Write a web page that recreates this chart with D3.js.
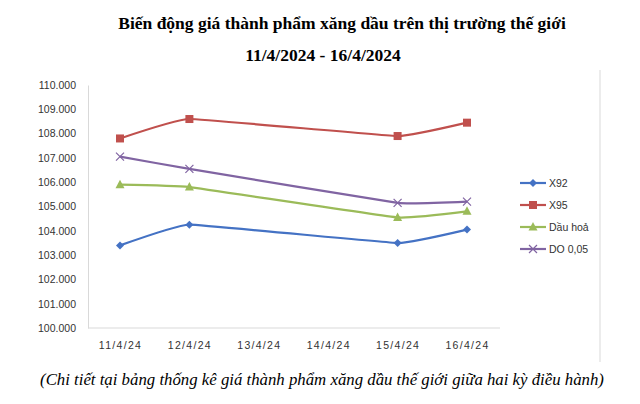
<!DOCTYPE html><html><head><meta charset="utf-8"><script src="https://cdn.jsdelivr.net/npm/d3@7"></script>
<style>body{margin:0;background:#fff}</style></head><body><svg id="c" width="640" height="404"></svg>
<script>
const categories=["11/4/24","12/4/24","13/4/24","14/4/24","15/4/24","16/4/24"];
const seriesNames=["X92","X95","Dầu hoả","DO 0,05"];
const x92=[103.4,104.25,null,null,103.5,104.05];
const x95=[107.8,108.6,null,null,107.9,108.45];
const dauhoa=[105.9,105.8,null,null,104.55,104.8];
const do005=[107.05,106.55,null,null,105.15,105.2];
const yTicks=[100,101,102,103,104,105,106,107,108,109,110];
const colors=["#4472C4","#C0504D","#9BBB59","#8064A2"];
const all=[x92,x95,dauhoa,do005];
const svg=d3.select("#c");
const font="'Liberation Serif','Times New Roman',serif";
svg.append("text").attr("x",342).attr("y",29).attr("text-anchor","middle").attr("font-family",font).attr("font-weight","bold").attr("font-size",17.5).text("Biến động giá thành phẩm xăng dầu trên thị trường thế giới");
svg.append("text").attr("x",323).attr("y",61).attr("text-anchor","middle").attr("font-family",font).attr("font-weight","bold").attr("font-size",17.5).text("11/4/2024 - 16/4/2024");
const x=d3.scalePoint().domain(categories).range([120,467]);
const y=d3.scaleLinear().domain([100,110]).range([328,85]);
const ax=svg.append("g").attr("transform","translate(88,0)").call(d3.axisLeft(y).tickValues(yTicks).tickSize(0).tickPadding(12).tickFormat(d=>d3.format(".3f")(d)));
ax.select(".domain").attr("stroke","#d9d9d9");
ax.selectAll("text").attr("font-family","'Liberation Sans',Arial,sans-serif").attr("font-size",10.5).attr("fill","#333");
const bx=svg.append("g").attr("transform","translate(0,328)").call(d3.axisBottom(x).tickSize(0).tickPadding(14));
bx.select(".domain").attr("stroke","#d9d9d9").attr("d","M88,0H500");
bx.selectAll("text").attr("font-family","'Liberation Sans',Arial,sans-serif").attr("font-size",10.5).attr("letter-spacing",1.3).attr("fill","#333");
svg.append("line").attr("x1",600).attr("x2",600).attr("y1",70).attr("y2",362).attr("stroke","#d9d9d9");
const line=d3.line().x(d=>x(d.c)).y(d=>y(d.v)).curve(d3.curveCardinal.tension(0.75));
all.forEach((s,i)=>{
 const pts=s.map((v,j)=>({c:categories[j],v})).filter(d=>d.v!=null);
 svg.append("path").attr("d",line(pts)).attr("fill","none").attr("stroke",colors[i]).attr("stroke-width",2.2);
 pts.forEach(p=>drawMarker(svg,i,x(p.c),y(p.v)));
});
function drawMarker(g,i,cx,cy){
 const c=colors[i];
 if(i==0) g.append("path").attr("d",`M${cx},${cy-4}L${cx+4},${cy}L${cx},${cy+4}L${cx-4},${cy}Z`).attr("fill",c);
 else if(i==1) g.append("rect").attr("x",cx-4).attr("y",cy-4).attr("width",8).attr("height",8).attr("fill",c);
 else if(i==2) g.append("path").attr("d",`M${cx},${cy-5}L${cx+4.5},${cy+3.5}L${cx-4.5},${cy+3.5}Z`).attr("fill",c);
 else g.append("path").attr("d",`M${cx-4},${cy-4}L${cx+4},${cy+4}M${cx-4},${cy+4}L${cx+4},${cy-4}`).attr("stroke",c).attr("stroke-width",1.2);
}
seriesNames.forEach((n,i)=>{
 const ly=183+i*22;
 svg.append("line").attr("x1",520).attr("x2",546).attr("y1",ly).attr("y2",ly).attr("stroke",colors[i]).attr("stroke-width",2.2);
 drawMarker(svg,i,533,ly);
 svg.append("text").attr("x",549).attr("y",ly+4).attr("font-family","'Liberation Sans',Arial,sans-serif").attr("font-size",10.5).attr("fill","#333").text(n);
});
svg.append("text").attr("x",322).attr("y",385).attr("text-anchor","middle").attr("font-family",font).attr("font-style","italic").attr("font-size",16.8).text("(Chi tiết tại bảng thống kê giá thành phẩm xăng dầu thế giới giữa hai kỳ điều hành)");
</script></body></html>
